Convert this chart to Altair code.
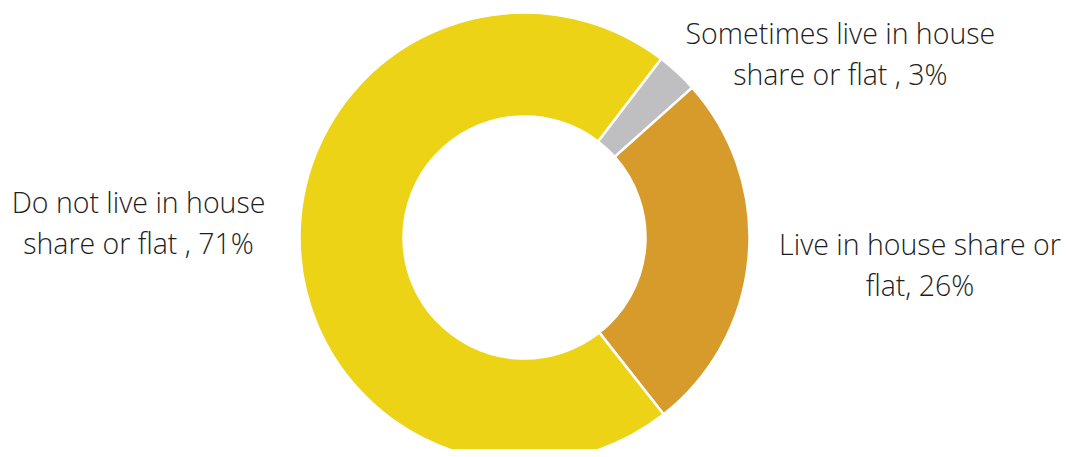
import altair as alt
import pandas as pd

categories = ["Sometimes live in house share or flat", "Live in house share or flat", "Do not live in house share or flat"]
values = [3, 26, 71]
labels = ["Sometimes live in house\nshare or flat , 3%", "Live in house share or\nflat, 26%", "Do not live in house\nshare or flat , 71%"]
colors = ["#BFBFC1", "#D69B2A", "#EDD315"]

df = pd.DataFrame({"cat": categories, "value": values, "label": labels, "order": [0, 1, 2]})

start = 0.653
theta_scale = alt.Scale(domain=[0, 100], range=[start, start + 2 * 3.141592653589793])
cx, cy = 516.5, 229.5

arc = alt.Chart(df).mark_arc(radius=225, radius2=121, stroke="white", strokeWidth=2.5).encode(
    theta=alt.Theta("value:Q", stack=True, scale=theta_scale),
    order=alt.Order("order:Q"),
    color=alt.Color("cat:N", scale=alt.Scale(domain=categories, range=colors), legend=None),
    x=alt.value(cx), y=alt.value(cy),
)

text_base = alt.Chart(df).transform_window(
    cum="sum(value)", sort=[alt.SortField("order")]
).transform_calculate(mid="datum.cum - datum.value / 2")

def lbl(i, r, dx=0, dy=0):
    return text_base.transform_filter(alt.datum.order == i).mark_text(
        radius=r, dx=dx, dy=dy, lineBreak="\n", font="Open Sans", fontWeight=300,
        fontSize=28.5, lineHeight=41, color="#1E1E1E", align="center", baseline="middle",
    ).encode(theta=alt.Theta("mid:Q", stack=None, scale=theta_scale),
             text="label:N", x=alt.value(cx), y=alt.value(cy))

chart = alt.layer(
    arc,
    lbl(0, 272, 131, -2.5),
    lbl(1, 399, -2, -26.5),
    lbl(2, 386, 0, -36.5),
).properties(width=1054, height=441, autosize=alt.AutoSizeParams(type="none"), padding=0
).configure_view(stroke=None)

chart.save("out.html", embed_options={"renderer": "svg", "actions": False})
